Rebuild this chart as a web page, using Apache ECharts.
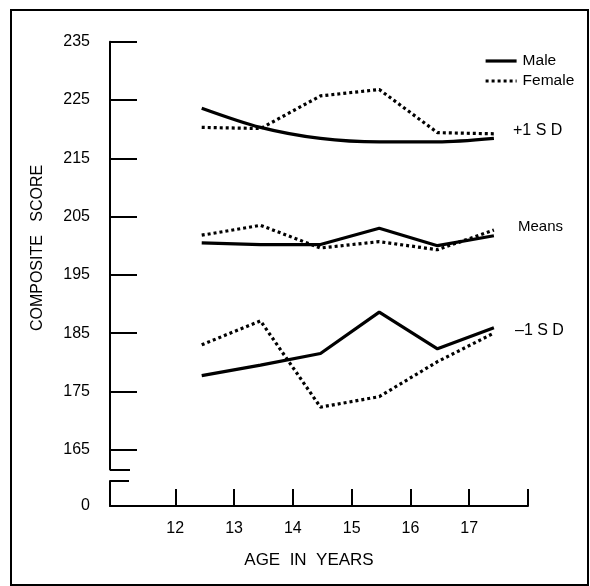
<!DOCTYPE html>
<html>
<head>
<meta charset="utf-8">
<script src="https://cdn.jsdelivr.net/npm/echarts@6/dist/echarts.min.js"></script>
<style>
html,body{margin:0;padding:0;background:#fff;}
#c{width:590px;height:586px;}
</style>
</head>
<body>
<div id="c"></div>
<script>
// Data
const ages = [12.45, 13.45, 14.47, 15.47, 16.46, 17.42];
const maleSDPlus = [223.6, 220.3, 218.4, 217.8, 217.8, 218.4];
const femaleSDPlus = [220.3, 220.1, 225.7, 226.8, 219.4, 219.2];
const maleMean = [200.5, 200.2, 200.2, 203.0, 200.0, 201.7];
const femaleMean = [201.8, 203.5, 199.6, 200.7, 199.3, 202.7];
const maleSDMinus = [177.7, 179.5, 181.5, 188.6, 182.3, 185.9];
const femaleSDMinus = [183.0, 187.1, 172.3, 174.1, 180.1, 185.0];
const yTicks = [165, 175, 185, 195, 205, 215, 225, 235];
const xTicks = [12, 13, 14, 15, 16, 17, 18];
const xLabels = [12, 13, 14, 15, 16, 17];
const bandLabels = [
  {text: '+1 S D', x: 513, y: 131, size: 16},
  {text: 'Means', x: 518, y: 227, size: 15},
  {text: '\u20131 S D', x: 515, y: 331, size: 16}
];

const FONT = '"Liberation Sans", Arial, Helvetica, sans-serif';
const pts = arr => ages.map((a, i) => [a, arr[i]]);
const solid = {color: '#000', width: 3.2, type: 'solid'};
const dotted = {color: '#000', width: 3.2, type: [3, 3], cap: 'butt'};

const chart = echarts.init(document.getElementById('c'), null, {renderer: 'canvas'});
const XMIN = 10.89, XMAX = 18;

const option = {
  animation: false,
  backgroundColor: '#fff',
  textStyle: {fontFamily: FONT, color: '#000'},
  grid: [
    {left: 110, top: 41.7, width: 418, height: 427.8},
    {left: 110, top: 481, width: 418, height: 25}
  ],
  xAxis: [
    {type: 'value', gridIndex: 0, min: XMIN, max: XMAX, show: false},
    {type: 'value', gridIndex: 1, min: XMIN, max: XMAX,
     axisLine: {show: true, lineStyle: {color: '#000', width: 2}},
     axisTick: {show: true, inside: true, length: 17, lineStyle: {color: '#000', width: 2}, customValues: xTicks},
     axisLabel: {show: true, color: '#000', fontSize: 16, fontFamily: FONT, margin: 15, customValues: xLabels},
     splitLine: {show: false},
     name: 'AGE  IN  YEARS', nameLocation: 'middle', nameGap: 46,
     nameTextStyle: {fontSize: 17, fontFamily: FONT, color: '#000', padding: [0, 20, 0, 0]}
    }
  ],
  yAxis: [
    {type: 'value', gridIndex: 0, position: 'left', min: 161.6, max: 235,
     axisLine: {show: true, lineStyle: {color: '#000', width: 2}},
     axisTick: {show: true, inside: true, length: 27, lineStyle: {color: '#000', width: 2}, customValues: yTicks},
     axisLabel: {show: true, color: '#000', fontSize: 16, fontFamily: FONT, margin: 20, customValues: yTicks},
     splitLine: {show: false}
    },
    {type: 'value', gridIndex: 0, position: 'left', offset: 0, min: 161.6, max: 235,
     axisLine: {show: false},
     axisTick: {show: true, inside: true, length: 20, lineStyle: {color: '#000', width: 2}, customValues: [161.6]},
     axisLabel: {show: false},
     splitLine: {show: false}
    },
    {type: 'value', gridIndex: 1, position: 'left', min: 0, max: 1,
     axisLine: {show: true, lineStyle: {color: '#000', width: 2}},
     axisTick: {show: true, inside: true, length: 19, lineStyle: {color: '#000', width: 2}, customValues: [1]},
     axisLabel: {show: true, color: '#000', fontSize: 16, fontFamily: FONT, margin: 20, customValues: [0], padding: [0, 0, 8, 0]},
     splitLine: {show: false}
    }
  ],
  legend: {
    orient: 'vertical', left: 479, top: 48, itemWidth: 31, itemHeight: 14, itemGap: 4,
    data: ['Male', 'Female'],
    itemStyle: {opacity: 0},
    lineStyle: {width: 3.2},
    textStyle: {fontSize: 15.5, fontFamily: FONT, color: '#000', padding: [0, 0, 0, 1]}
  },
  series: [
    {name: 'Male', type: 'line', xAxisIndex: 0, yAxisIndex: 0, data: pts(maleSDPlus), symbol: 'none', smooth: 0.3, lineStyle: solid, itemStyle: {color: '#000'}},
    {name: 'Female', type: 'line', xAxisIndex: 0, yAxisIndex: 0, data: pts(femaleSDPlus), symbol: 'none', lineStyle: dotted, itemStyle: {color: '#000'}},
    {name: 'Male', type: 'line', xAxisIndex: 0, yAxisIndex: 0, data: pts(maleMean), symbol: 'none', lineStyle: solid, itemStyle: {color: '#000'}},
    {name: 'Female', type: 'line', xAxisIndex: 0, yAxisIndex: 0, data: pts(femaleMean), symbol: 'none', lineStyle: dotted, itemStyle: {color: '#000'}},
    {name: 'Male', type: 'line', xAxisIndex: 0, yAxisIndex: 0, data: pts(maleSDMinus), symbol: 'none', lineStyle: solid, itemStyle: {color: '#000'}},
    {name: 'Female', type: 'line', xAxisIndex: 0, yAxisIndex: 0, data: pts(femaleSDMinus), symbol: 'none', lineStyle: dotted, itemStyle: {color: '#000'}}
  ],
  graphic: [
    {type: 'rect', shape: {x: 11, y: 10, width: 577, height: 575}, style: {fill: 'none', stroke: '#000', lineWidth: 2}, silent: true},
    {type: 'text', x: 38, y: 248, rotation: Math.PI / 2,
     style: {text: 'COMPOSITE   SCORE', fontSize: 16, fontFamily: FONT, fill: '#000', textAlign: 'center', textVerticalAlign: 'middle'}}
  ].concat(bandLabels.map(b => ({
    type: 'text', x: b.x, y: b.y,
    style: {text: b.text, fontSize: b.size, fontFamily: FONT, fill: '#000', textAlign: 'left', textVerticalAlign: 'middle'}
  })))
};
chart.setOption(option);
</script>
</body>
</html>
